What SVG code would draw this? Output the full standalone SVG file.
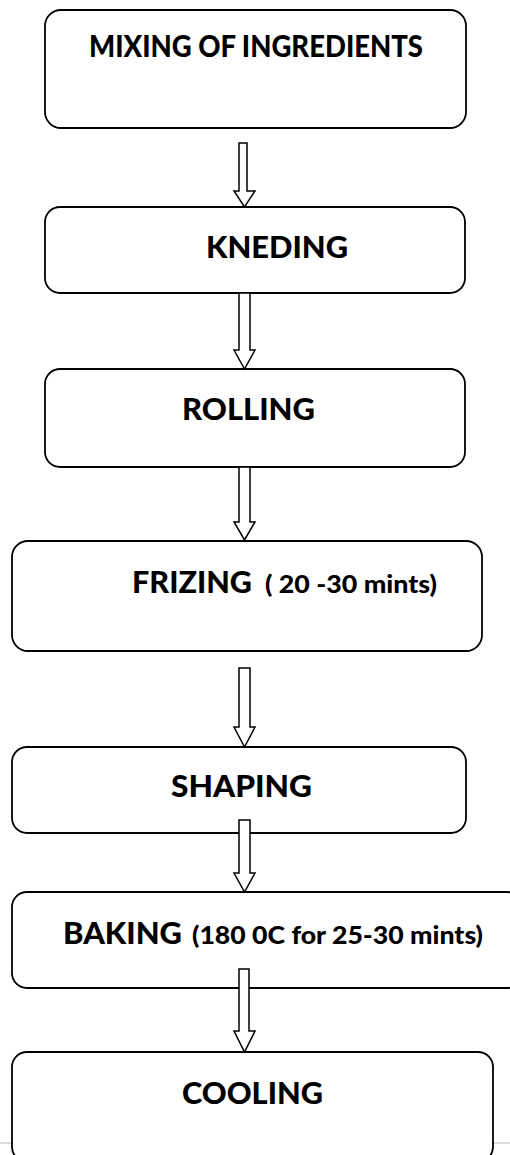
<svg xmlns="http://www.w3.org/2000/svg" width="510" height="1155" viewBox="0 0 510 1155">
<style>
.box{fill:#fff;stroke:#000;stroke-width:1.8}
.arr{fill:#fff;stroke:#000;stroke-width:1.5;stroke-linejoin:miter}
.t{font-family:Lato,"Liberation Sans",sans-serif;font-weight:900;font-size:31px;fill:#000}
.s{font-family:Lato,"Liberation Sans",sans-serif;font-weight:900;font-size:24px;fill:#000}
</style>
<rect width="510" height="1155" fill="#fff"/>
<line x1="0" y1="1143" x2="12" y2="1143" stroke="#d0d0d0" stroke-width="1.5"/>
<line x1="493" y1="1143" x2="510" y2="1143" stroke="#d0d0d0" stroke-width="1.5"/>
<g id="n1"><rect class="box" x="45" y="10" width="421" height="118" rx="16"/><text class="t" x="89" y="57" textLength="334" lengthAdjust="spacingAndGlyphs">MIXING OF INGREDIENTS</text></g>
<g id="n2"><rect class="box" x="45" y="207" width="420" height="86" rx="15"/><text class="t" x="206" y="258" textLength="142" lengthAdjust="spacingAndGlyphs">KNEDING</text></g>
<g id="n3"><rect class="box" x="45" y="369" width="420" height="98" rx="15"/><text class="t" x="182" y="420" textLength="133" lengthAdjust="spacingAndGlyphs">ROLLING</text></g>
<g id="n4"><rect class="box" x="12" y="541" width="470" height="110" rx="16"/><text class="t" x="132" y="593" textLength="120" lengthAdjust="spacingAndGlyphs">FRIZING</text><text class="s" x="265" y="593" textLength="172" lengthAdjust="spacingAndGlyphs">( 20 -30 mints)</text></g>
<g id="n5"><rect class="box" x="12" y="747" width="454" height="86" rx="15"/><text class="t" x="171" y="797" textLength="141" lengthAdjust="spacingAndGlyphs">SHAPING</text></g>
<g id="n6"><rect class="box" x="12" y="892" width="510" height="96" rx="15"/><text class="t" x="63" y="944" textLength="119" lengthAdjust="spacingAndGlyphs">BAKING</text><text class="s" x="192" y="944" textLength="291" lengthAdjust="spacingAndGlyphs">(180 0C for 25-30 mints)</text></g>
<g id="n7"><rect class="box" x="12" y="1052" width="481" height="110" rx="15"/><text class="t" x="182" y="1104" textLength="141" lengthAdjust="spacingAndGlyphs">COOLING</text></g>
<g id="connectors">
<polygon class="arr" points="239,143 247,143 247,191 255,191 244.5,207 234,191 239,191"/>
<polygon class="arr" points="239,293 250,293 250,350 255,350 244.5,369 234,350 239,350"/>
<polygon class="arr" points="239,467 250,467 250,522 255,522 244.5,540 234,522 239,522"/>
<polygon class="arr" points="239,668 250,668 250,727 255,727 244.5,747 234,727 239,727"/>
<polygon class="arr" points="239,820 250,820 250,873 255,873 244.5,892 234,873 239,873"/>
<polygon class="arr" points="239,969 249,969 249,1031 255,1031 244.5,1052 234,1031 239,1031"/>
</g>
</svg>
